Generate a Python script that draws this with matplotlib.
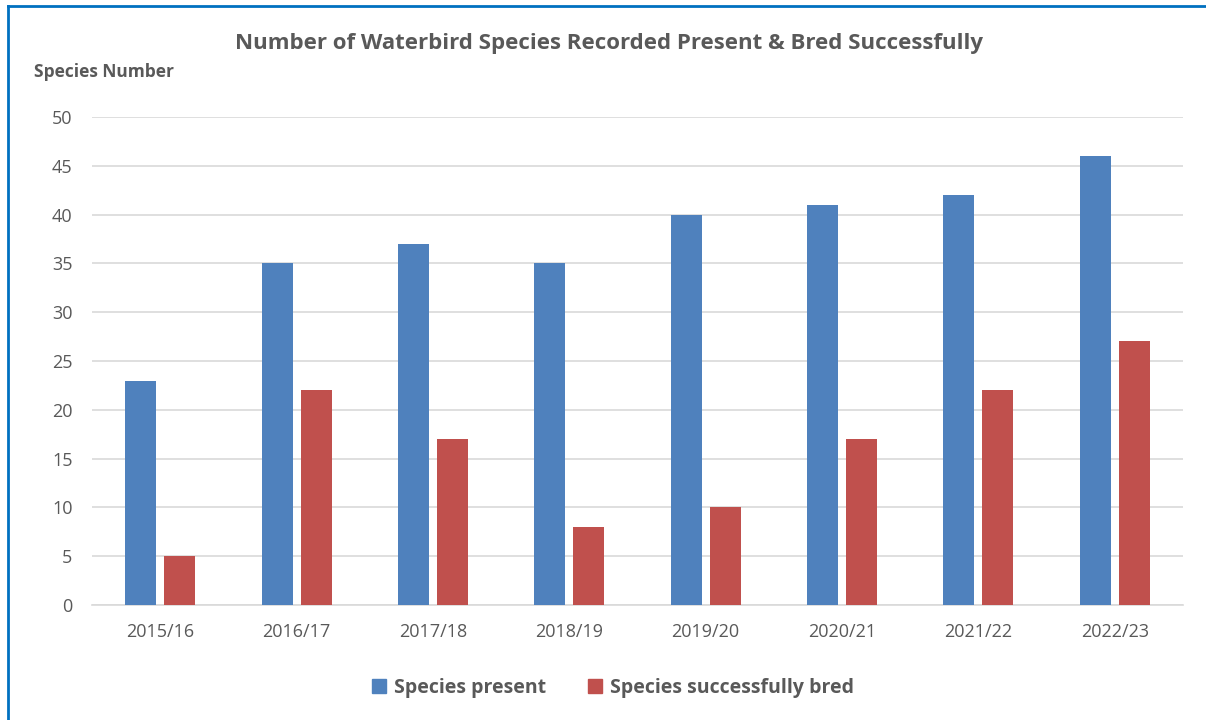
import numpy as np
import matplotlib
matplotlib.use("Agg")
import matplotlib.pyplot as plt
from matplotlib.lines import Line2D
from matplotlib.patches import Patch

plt.rcParams['font.family'] = ['Open Sans', 'DejaVu Sans']

seasons = ["2015/16", "2016/17", "2017/18", "2018/19", "2019/20", "2020/21", "2021/22", "2022/23"]
present = [23, 35, 37, 35, 40, 41, 42, 46]
bred = [5, 22, 17, 8, 10, 17, 22, 27]

BLUE = "#4F81BD"
RED = "#C0504D"
TXT = "#595959"
GRID = "#D9D9D9"

W, H = 1206, 720
fig = plt.figure(figsize=(W / 100, H / 100), dpi=100)
ax = fig.add_axes([92 / W, 1 - 605 / H, (1183 - 92) / W, (605 - 117) / H])

x = np.arange(len(seasons))
bw = 0.227
off = 0.143
ax.bar(x - off, present, bw, color=BLUE, zorder=3, label="Species present")
ax.bar(x + off, bred, bw, color=RED, zorder=3, label="Species successfully bred")

ax.set_xlim(-0.5, len(seasons) - 0.5)
ax.set_ylim(0, 50)
ax.set_yticks(range(0, 51, 5))
ax.set_xticks(x)
ax.set_xticklabels(seasons)
ax.yaxis.grid(True, color=GRID, lw=1.2, zorder=0)
for s in ['top', 'right', 'left']:
    ax.spines[s].set_visible(False)
ax.spines['bottom'].set_color(GRID)
ax.spines['bottom'].set_linewidth(1.2)
ax.tick_params(axis='both', length=0, labelsize=13, labelcolor=TXT)
ax.tick_params(axis='y', pad=14)
ax.tick_params(axis='x', pad=13)

fig.text(609 / W, 1 - 44 / H, "Number of Waterbird Species Recorded Present & Bred Successfully",
         ha='center', va='center', fontsize=16, fontweight='bold', color=TXT)
fig.text(34 / W, 1 - 72 / H, "Species Number", ha='left', va='center',
         fontsize=12.5, fontweight='bold', color=TXT)

handles = [Patch(color=BLUE, label="Species present"),
           Patch(color=RED, label="Species successfully bred")]
fig.legend(handles=handles, loc='center', bbox_to_anchor=(613 / W, 1 - 688 / H), ncol=2,
           frameon=False, prop={'size': 14, 'weight': 'bold'}, labelcolor=TXT,
           handlelength=0.7, handleheight=0.7, handletextpad=0.4, columnspacing=2.2)

# blue outer border (left and top visible)
fig.add_artist(Line2D([8 / W, 8 / W], [0, 1 - 6 / H], color="#0070C0", lw=2, transform=fig.transFigure))
fig.add_artist(Line2D([8 / W, 1], [1 - 6 / H, 1 - 6 / H], color="#0070C0", lw=2, transform=fig.transFigure))

fig.savefig("out.png", dpi=100)
